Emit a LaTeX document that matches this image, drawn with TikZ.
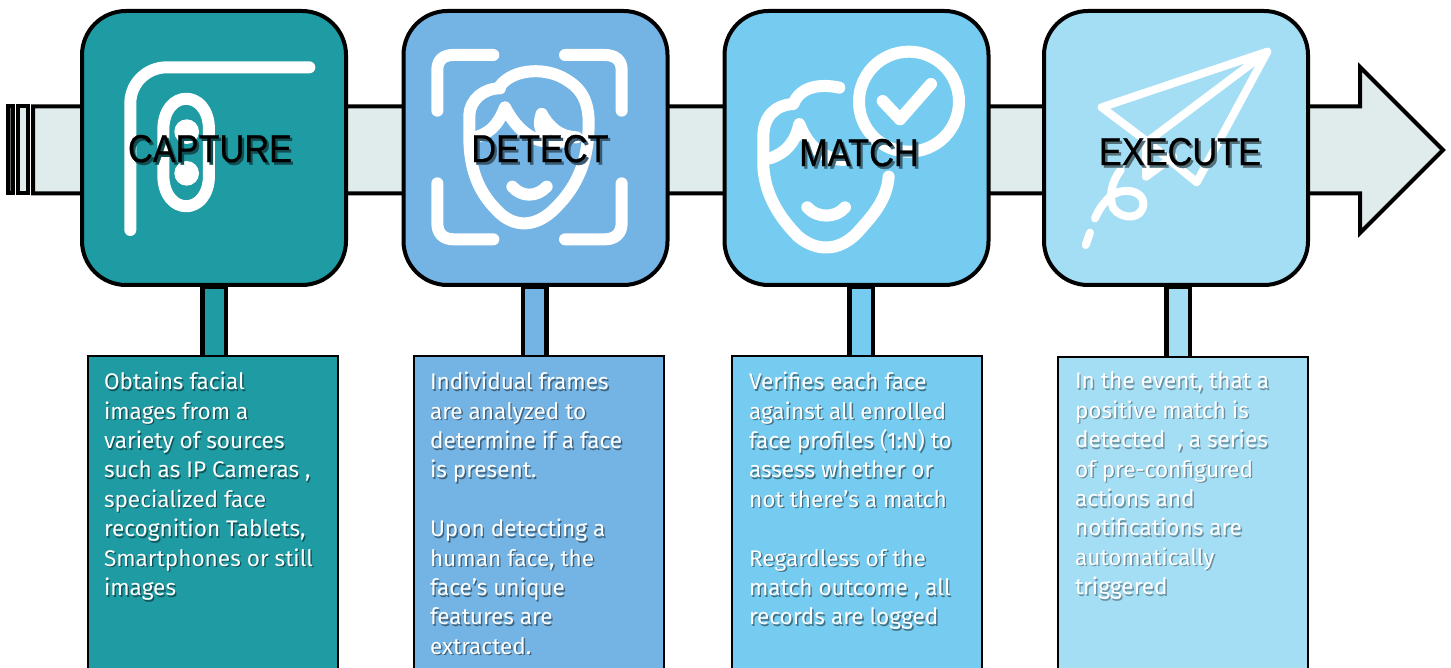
\documentclass[tikz,border=0pt]{standalone}
\usepackage{fontspec}
\setmainfont{Fira Sans}
\newfontfamily\titlefont[FakeBold=0.6]{Liberation Sans}
\usepackage{tikz}
\usetikzlibrary{positioning}
\definecolor{capturecol}{HTML}{1F9BA3}
\definecolor{detectcol}{HTML}{74B4E4}
\definecolor{matchcol}{HTML}{76CCF0}
\definecolor{executecol}{HTML}{A4DEF5}
\definecolor{arrowcol}{HTML}{E0ECEC}
% text with its shadow
\newcommand{\titletext}[2]{\rlap{\kern1.3pt\raisebox{-1.3pt}{\textcolor{#1!50!black}{#2}}}#2}
\newcommand{\shline}[1]{\rlap{\kern.7pt\raisebox{-.8pt}{\textcolor{shade}{#1}}}#1\\}
\tikzset{every picture/.style={line width=2pt},
  stage/.style={draw=black,rounded corners=22pt,minimum width=132pt,minimum height=137pt,inner sep=0pt},
  stagetitle/.style={font=\titlefont\fontsize{19.5}{20}\selectfont,xscale=.88,text=black,inner sep=0pt},
  desc/.style={draw=black,line width=1pt,minimum width=125pt,minimum height=170pt,inner sep=0pt},
  desctext/.style={font=\fontsize{11.3}{14.7}\selectfont,text=white,align=left,anchor=north west,inner sep=0pt},
  stem/.style={draw=black,line width=14pt},
  stemcore/.style={line width=9.5pt},
  icon/.style={draw=white,line width=6pt,line cap=round,line join=round},
  iconthin/.style={draw=white,line width=4pt,line cap=round,line join=round}
}
\begin{document}
\begin{tikzpicture}[x=.5pt,y=-.5pt]
\useasboundingbox (0,0) rectangle (1451,668);
\clip (0,0) rectangle (1451,668);
% arrow behind the boxes
\draw[fill=arrowcol,line join=miter] (33,106.5) -- (1360,106.5) -- (1360,67) -- (1443,150) -- (1360,233) -- (1360,193.5) -- (33,193.5) -- cycle;
\draw[fill=arrowcol] (18,106.5) rectangle (28,193.5);
\draw[fill=black!60] (8,106.5) rectangle (13,193.5);
% stages
\node[stage,fill=capturecol] (capture) at (214,148) {};
\node[stage,fill=detectcol] (detect) at (535.5,148) {};
\node[stage,fill=matchcol] (match) at (856.5,148) {};
\node[stage,fill=executecol] (execute) at (1176,148) {};
% descriptions
\node[desc,fill=capturecol] (d1) at (212.5,526) {};
\node[desc,fill=detectcol] (d2) at (538.5,526) {};
\node[desc,fill=matchcol] (d3) at (856.5,526) {};
\node[desc,fill=executecol] (d4) at (1182.5,527) {};
%
\foreach \Source/\Target/\Pos/\Col in {%
	capture/d1/214/capturecol,
	detect/d2/534.5/detectcol,
	match/d3/861/matchcol,
	execute/d4/1178/executecol%
    }{
\draw[stem] (\Pos,0 |- \Source.south) to (\Pos,0 |- \Target.north);
\draw[stemcore,draw=\Col] (\Pos,0 |- \Source.south) ++(0,2) to (\Pos,0 |- \Target.north);
}
% capture icon
\begin{scope}[shift={(0,0)},scale=1/3]
\draw[icon] (391,690) -- (391,310) .. controls (391,250) and (440,202) .. (500,202) -- (928,202);
\draw[icon] (490,390) .. controls (490,265) and (627,265) .. (627,390) -- (627,525) .. controls (627,650) and (490,650) .. (490,525) -- cycle;
\fill[white] (560,395) circle (37);
\fill[white] (560,520) circle (37);
\end{scope}
% detect icon
\begin{scope}[shift={(390,0)},scale=1/3]
\draw[icon] (142,332) -- (142,210) .. controls (142,180) and (160,165) .. (190,165) -- (310,165);
\draw[icon] (525,165) -- (645,165) .. controls (675,165) and (695,180) .. (695,210) -- (695,332);
\draw[icon] (142,550) -- (142,670) .. controls (142,700) and (160,718) .. (190,718) -- (310,718);
\draw[icon] (525,718) -- (645,718) .. controls (675,718) and (695,700) .. (695,670) -- (695,550);
\draw[icon] (330,258) .. controls (370,205) and (470,200) .. (530,240) .. controls (590,275) and (600,330) .. (595,400)
  .. controls (590,500) and (550,570) .. (500,620) .. controls (440,685) and (370,685) .. (320,630)
  .. controls (260,570) and (240,500) .. (238,420) -- (238,345) .. controls (240,300) and (280,265) .. (330,265);
\draw[icon] (262,410) .. controls (310,395) and (330,360) .. (345,322) .. controls (375,380) and (420,425) .. (480,425) -- (530,425);
\draw[icon] (455,342) .. controls (445,370) and (450,390) .. (465,410);
\draw[icon] (455,342) .. controls (480,385) and (510,410) .. (560,412);
\draw[icon] (367,560) .. controls (395,592) and (440,592) .. (470,560);
\end{scope}
% match icon
\begin{scope}[shift={(710,0)},scale=1/3]
\draw[icon] (597,305) circle (150);
\draw[icon] (518,303) -- (570,358) -- (663,252);
\draw[icon] (388,263) .. controls (330,250) and (270,260) .. (250,312) .. controls (195,315) and (160,350) .. (160,410)
  -- (160,500) .. controls (165,590) and (215,660) .. (265,710) .. controls (320,755) and (385,755) .. (440,700)
  .. controls (490,645) and (530,600) .. (536,530);
\draw[icon] (180,475) .. controls (225,460) and (255,430) .. (268,372) .. controls (290,430) and (330,475) .. (400,480);
\draw[icon] (292,622) .. controls (320,655) and (378,655) .. (405,622);
\end{scope}
% execute icon
\begin{scope}[shift={(1030,0)},scale=1/3]
\draw[iconthin] (712,155) -- (215,322) -- (352,425) -- cycle;
\draw[iconthin] (712,155) -- (500,547) -- (352,425);
\draw[iconthin] (348,425) -- (348,530) -- (430,470);
\draw[iconthin] (272,510) .. controls (245,545) and (235,590) .. (250,625) .. controls (275,660) and (340,660) .. (340,610)
  .. controls (340,570) and (275,560) .. (240,590) .. controls (220,610) and (205,630) .. (195,655);
\draw[iconthin] (180,698) -- (167,735);
\end{scope}
% titles
\node[stagetitle] (t1) at (210,150) {\titletext{capturecol}{CAPTURE}};
\node[stagetitle] (t2) at (540,150) {\titletext{detectcol}{DETECT}};
\node[stagetitle] (t3) at (859,154) {\titletext{matchcol}{MATCH}};
\node[stagetitle] (t4) at (1180,153) {\titletext{executecol}{EXECUTE}};
% texts
\colorlet{shade}{capturecol!55!black}
\node[desctext] (b1) at (102,370) {\shline{Obtains facial}\shline{images from a}\shline{variety of sources}\shline{such as IP Cameras ,}\shline{specialized face}\shline{recognition Tablets,}\shline{Smartphones or still}\shline{images}};
\colorlet{shade}{detectcol!55!black}
\node[desctext] (b2) at (428,370) {\shline{Individual frames}\shline{are analyzed to}\shline{determine if a face}\shline{is present.}~\\\shline{Upon detecting a}\shline{human face, the}\shline{face’s unique}\shline{features are}\shline{extracted.}};
\colorlet{shade}{matchcol!55!black}
\node[desctext] (b3) at (747,370) {\shline{Verifies each face}\shline{against all enrolled}\shline{face profiles (1:N) to}\shline{assess whether or}\shline{not there’s a match}~\\\shline{Regardless of the}\shline{match outcome , all}\shline{records are logged}};
\colorlet{shade}{executecol!65!black}
\node[desctext] (b4) at (1073,370) {\shline{In the event, that a}\shline{positive match is}\shline{detected~~, a series}\shline{of pre-configured}\shline{actions and}\shline{notifications are}\shline{automatically}\shline{triggered}};
\end{tikzpicture}
\end{document}
